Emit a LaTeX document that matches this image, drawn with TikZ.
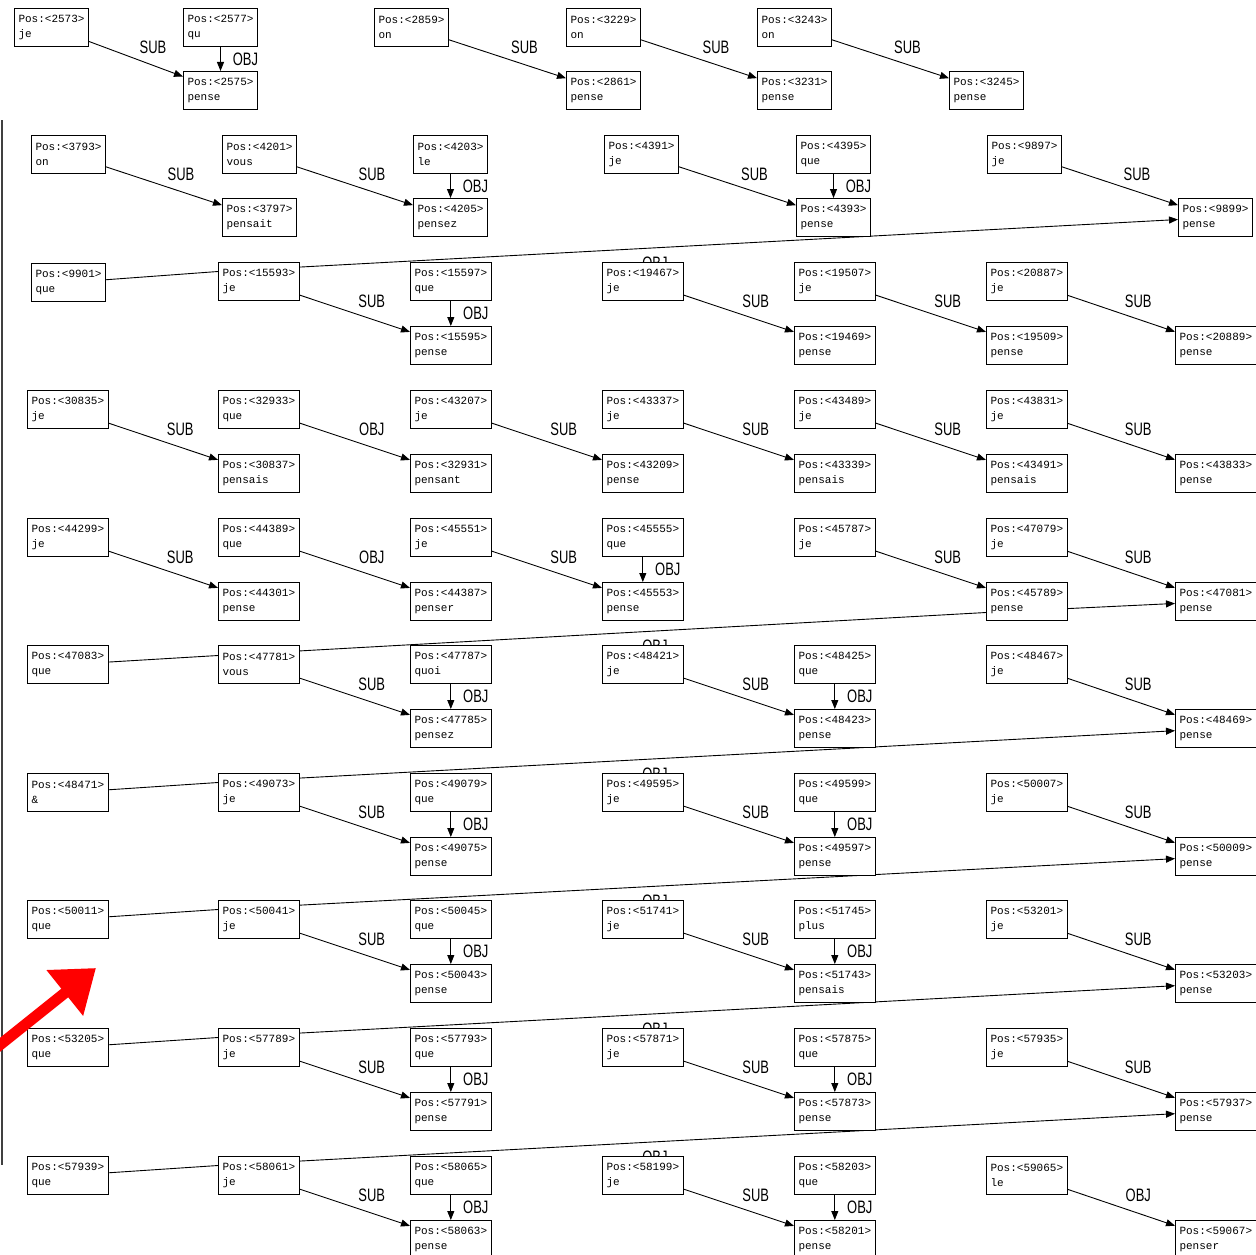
\documentclass[tikz,border=0pt]{standalone}
\usepackage{fontspec}
\usepackage{graphicx}
\usetikzlibrary{arrows.meta,backgrounds}
\newfontfamily\boxfont{Liberation Mono}
\newfontfamily\labfont{Liberation Sans}
\newcommand{\narrow}[1]{\scalebox{0.72}[1]{#1}}
\tikzset{
  wbox/.style={draw, line width=1pt, fill=white, anchor=north west, align=left,
    inner xsep=4pt, inner ysep=2pt, minimum height=38pt,
    font=\boxfont\fontsize{11}{15}\selectfont},
  rel/.style={line width=0.9pt, -{Triangle[length=9pt,width=7pt]}},
  rlab/.style={font=\labfont\fontsize{18}{18}\selectfont, inner sep=0pt},
  dlab/.style={rlab, midway, xshift=17pt, yshift=12pt},
  vlab/.style={rlab, midway, xshift=25pt},
  frame/.style={line width=1.5pt, black!75},
  pointer/.style={red, line width=11pt, -{Triangle[length=40pt,width=56pt]}},
}
\begin{document}
\begin{tikzpicture}[x=1pt,y=-1pt]
\useasboundingbox (0,0) rectangle (1256,1255);
% word boxes: id / left / top / word
\foreach \id/\x/\y/\w in {
  2573/14/8/je, 2577/183/8/qu, 2575/183/71/pense, 2859/374/8/on, 2861/566/71/pense,
  3229/566/8/on, 3231/757/71/pense, 3243/757/8/on, 3245/949/71/pense,
  3793/31/135/on, 4201/222/135/vous, 3797/222/198/pensait, 4203/413/135/le,
  4205/413/198/pensez, 4391/604/135/je, 4395/796/135/que, 4393/796/198/pense,
  9897/987/135/je, 9899/1178/198/pense,
  9901/31/263/que, 15593/218/262/je, 15597/410/262/que, 15595/410/326/pense,
  19467/602/262/je, 19469/794/326/pense, 19507/794/262/je, 19509/986/326/pense,
  20887/986/262/je, 20889/1175/326/pense,
  30835/27/390/je, 30837/218/454/pensais, 32933/218/390/que, 32931/410/454/pensant,
  43207/410/390/je, 43209/602/454/pense, 43337/602/390/je, 43339/794/454/pensais,
  43489/794/390/je, 43491/986/454/pensais, 43831/986/390/je, 43833/1175/454/pense,
  44299/27/518/je, 44301/218/582/pense, 44389/218/518/que, 44387/410/582/penser,
  45551/410/518/je, 45553/602/582/pense, 45555/602/518/que, 45787/794/518/je,
  45789/986/582/pense, 47079/986/518/je, 47081/1175/582/pense,
  47083/27/645/que, 47781/218/645/vous, 47787/410/645/quoi, 47785/410/709/pensez,
  48421/602/645/je, 48425/794/645/que, 48423/794/709/pense, 48467/986/645/je,
  48469/1175/709/pense,
  48471/27/773/\&, 49073/218/773/je, 49079/410/773/que, 49075/410/837/pense,
  49595/602/773/je, 49599/794/773/que, 49597/794/837/pense, 50007/986/773/je,
  50009/1175/837/pense,
  50011/27/900/que, 50041/218/900/je, 50045/410/900/que, 50043/410/964/pense,
  51741/602/900/je, 51745/794/900/plus, 51743/794/964/pensais, 53201/986/900/je,
  53203/1175/964/pense,
  53205/27/1028/que, 57789/218/1028/je, 57793/410/1028/que, 57791/410/1092/pense,
  57871/602/1028/je, 57875/794/1028/que, 57873/794/1092/pense, 57935/986/1028/je,
  57937/1175/1092/pense,
  57939/27/1156/que, 58061/218/1156/je, 58065/410/1156/que, 58063/410/1220/pense,
  58199/602/1156/je, 58203/794/1156/que, 58201/794/1220/pense, 59065/986/1156/le,
  59067/1175/1220/penser}
  \node[wbox] (n\id) at (\x,\y) {Pos:<\id>\\\w};
% subjects
\foreach \a/\b in {2573/2575, 2859/2861, 3229/3231, 3243/3245, 3793/3797, 4201/4205,
  4391/4393, 9897/9899, 15593/15595, 19467/19469, 19507/19509, 20887/20889,
  30835/30837, 43207/43209, 43337/43339, 43489/43491, 43831/43833, 44299/44301,
  45551/45553, 45787/45789, 47079/47081, 47781/47785, 48421/48423, 48467/48469,
  49073/49075, 49595/49597, 50007/50009, 50041/50043, 51741/51743, 53201/53203,
  57789/57791, 57871/57873, 57935/57937, 58061/58063, 58199/58201}
  \draw[rel] (n\a) -- (n\b) node[dlab] {\narrow{SUB}};
\foreach \a/\b in {32933/32931, 44389/44387, 59065/59067}
  \draw[rel] (n\a) -- (n\b) node[dlab] {\narrow{OBJ}};
% objects straight down
\foreach \a/\b in {2577/2575, 4203/4205, 4395/4393, 15597/15595, 45555/45553,
  47787/47785, 48425/48423, 49079/49075, 49599/49597, 50045/50043, 51745/51743,
  57793/57791, 57875/57873, 58065/58063, 58203/58201}
  \draw[rel] (n\a) -- (n\b) node[vlab] {\narrow{OBJ}};
% long objects, behind the boxes
\begin{scope}[on background layer]
  \draw[rel] (n9901) -- ([yshift=10pt]n15593.west) -- (n9899);
  \draw[rel] (n47083) -- ([yshift=9pt]n47781.west) -- ([yshift=-11pt]n45789.west) -- (n47081);
  \draw[rel] (n48471) -- ([yshift=10pt]n49073.west) -- (n48469);
  \draw[rel] (n50011) -- ([yshift=10pt]n50041.west) -- (n50009);
  \draw[rel] (n53205) -- ([yshift=10pt]n57789.west) -- (n53203);
  \draw[rel] (n57939) -- ([yshift=10pt]n58061.west) -- (n57937);
  \foreach \id/\y in {9901/263, 47083/646, 48471/774, 50011/901, 53205/1029, 57939/1157}
    \node[rlab] (o\id) at (655,\y) {\narrow{OBJ}};
\end{scope}
\draw[frame] (2,120) -- (2,1165);
\draw[pointer] (-14,1056) -- (96,968);
\end{tikzpicture}
\end{document}
